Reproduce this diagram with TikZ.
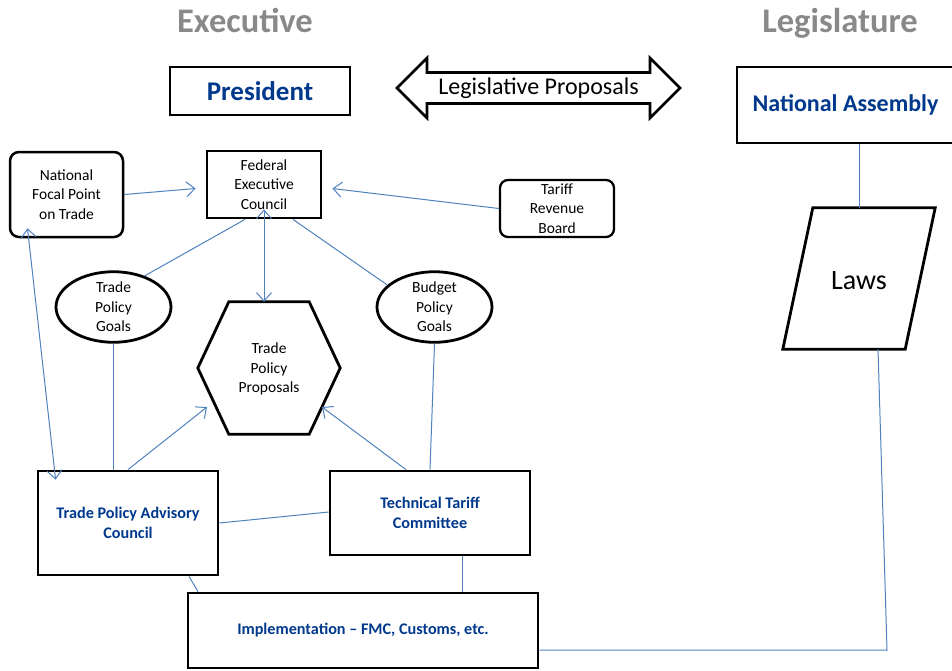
\documentclass[tikz,border=0pt]{standalone}
\usepackage{fontspec}
\setmainfont{Carlito}
\usepackage{xcolor}
\usetikzlibrary{arrows.meta,shapes.geometric}

\definecolor{titlegray}{RGB}{137,137,137}
\definecolor{bodyblue}{RGB}{0,56,140}
\definecolor{linkblue}{RGB}{79,129,189}

\tikzset{
  box/.style={draw, line width=2.8pt, align=center, inner sep=0pt},
  roundbox/.style={box, line width=2.5pt, rounded corners=9pt},
  goal/.style={draw, ellipse, line width=2.8pt, align=center, inner sep=0pt},
  bluetext/.style={font=\bfseries\fontsize{16.2}{20}\selectfont, text=bodyblue},
  small/.style={font=\fontsize{15.5}{19.5}\selectfont},
  heading/.style={font=\bfseries\fontsize{34.5}{38}\selectfont, text=titlegray, anchor=base},
  link/.style={linkblue, line width=1pt},
  arr/.style={link, -{Straight Barb[length=8.5pt,width=15pt]}},
  dblarr/.style={link, {Straight Barb[length=8.5pt,width=15pt]}-{Straight Barb[length=8.5pt,width=15pt]}}
}

\begin{document}
\begin{tikzpicture}[x=1pt, y=-1pt]
\useasboundingbox (0,0) rectangle (952,670);

% headings
\node[heading] (exec) at (245,32) {Executive};
\node[heading] (legis) at (840,32) {Legislature};

\node[box, minimum width=180pt, minimum height=48pt, font=\bfseries\fontsize{27}{30}\selectfont, text=bodyblue] (pres) at (260,91) {President};
\node[box, minimum width=217pt, minimum height=76pt, font=\bfseries\fontsize{24}{28}\selectfont, text=bodyblue] (assembly) at (845.5,105) {National Assembly};

% legislative proposals
\node[font=\fontsize{24}{28}\selectfont] (prop) at (538.5,88) {Legislative Proposals};
\draw[line width=2.8pt, line join=miter]
  ([shift={(-141.5,0)}]prop.center) -- ([shift={(-111.5,-30)}]prop.center) -- ([shift={(-111.5,-15.5)}]prop.center)
  -- ([shift={(111.5,-15.5)}]prop.center) -- ([shift={(111.5,-30)}]prop.center) -- ([shift={(141.5,0)}]prop.center)
  -- ([shift={(111.5,30)}]prop.center) -- ([shift={(111.5,15.5)}]prop.center) -- ([shift={(-111.5,15.5)}]prop.center)
  -- ([shift={(-111.5,30)}]prop.center) -- cycle;

% laws
\node[minimum width=152pt, minimum height=141pt, inner sep=0pt] (laws) at (859,278.5) {};
\node[font=\fontsize{28}{32}\selectfont] (lawstext) at (859,281) {Laws};
\draw[line width=2.8pt] ([xshift=30pt]laws.north west) -- (laws.north east) -- ([xshift=-30pt]laws.south east) -- (laws.south west) -- cycle;

% executive
\node[roundbox, small, minimum width=113pt, minimum height=85pt] (focal) at (66.5,194.5) {National\\Focal Point\\on Trade};
\node[box, small, minimum width=114pt, minimum height=67pt] (fec) at (264,184.5) {Federal\\Executive\\Council};
\node[roundbox, small, line width=2.3pt, rounded corners=8pt, minimum width=114pt, minimum height=57pt] (revenue) at (557,208.5) {Tariff\\Revenue\\Board};
\node[goal, small, minimum width=115pt, minimum height=66pt] (tgoals) at (113.5,307) {Trade\\Policy\\Goals};
\node[goal, small, minimum width=115pt, minimum height=66pt] (bgoals) at (434.5,307) {Budget\\Policy\\Goals};

\node[minimum width=142pt, minimum height=132pt, inner sep=0pt] (hex) at (269,368) {};
\node[small, align=center] (hextext) at (269,369) {Trade\\Policy\\Proposals};
\draw[line width=2.8pt, line join=miter] (hex.west) -- ([xshift=31pt]hex.north west) -- ([xshift=-31pt]hex.north east)
  -- (hex.east) -- ([xshift=-31pt]hex.south east) -- ([xshift=31pt]hex.south west) -- cycle;

\node[box, bluetext, minimum width=180pt, minimum height=104pt] (tpac) at (128,523) {Trade Policy Advisory\\Council};
\node[box, bluetext, minimum width=200pt, minimum height=84pt] (ttc) at (430,513) {Technical Tariff\\Committee};
\node[box, bluetext, minimum width=350pt, minimum height=75pt] (impl) at (363,630.5) {Implementation -- FMC, Customs, etc.};

\coordinate (hexleft) at (207,407);
\coordinate (hexright) at (322,407);
\coordinate (bend) at (887,650);

% connectors
\draw[arr] (focal.east) -- ([xshift=-10pt, yshift=-4pt]fec.west);
\draw[arr] (revenue.west) -- ([xshift=10pt, yshift=-4pt]fec.east);
\draw[link] ([xshift=-19pt]fec.south) -- (tgoals.45);
\draw[link] ([xshift=29pt]fec.south) -- (bgoals.155);
\draw[dblarr] ([yshift=10pt]fec.south) -- ([xshift=-5pt]hex.north);
\draw[dblarr] ([shift={(-39pt,10pt)}]focal.south) -- ([xshift=19pt, yshift=-10pt]tpac.north west);
\draw[link] (tgoals.south) -- (tgoals.south |- tpac.north);
\draw[link] (bgoals.south) -- (ttc.north);
\draw[arr] (tpac.north) -- (hexleft);
\draw[arr] ([xshift=-24pt]ttc.north) -- (hexright);
\draw[link] (tpac.east) -- ([yshift=1pt]ttc.west);
\draw[link] ([xshift=61pt]tpac.south) -- ([xshift=-165pt]impl.north);
\draw[link] ([xshift=32pt]ttc.south) -- ([xshift=99pt]impl.north);
\draw[link] (assembly.south -| lawstext) -- (laws.north -| lawstext);
\draw[link] ([xshift=19pt]laws.south) -- (bend) -- (bend -| impl.east);
\end{tikzpicture}
\end{document}
